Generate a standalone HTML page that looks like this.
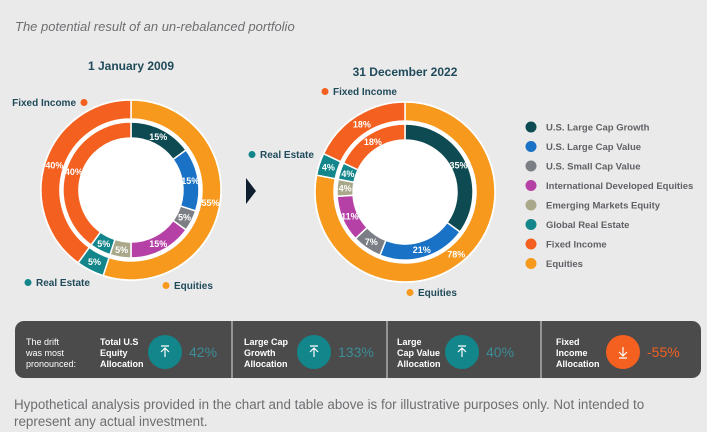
<!DOCTYPE html>
<html><head><meta charset="utf-8">
<style>
body{margin:0;background:#ebeaea;font-family:"Liberation Sans",sans-serif;}
#wrap{position:relative;width:707px;height:432px;overflow:hidden;background:#ebeaea;}
.t{position:absolute;white-space:nowrap;}
</style></head><body>
<div id="wrap">
<div class="t" style="left:15px;top:19px;font-size:13px;font-style:italic;color:#6d6e71;">The potential result of an un-rebalanced portfolio</div>
<svg id="svg" width="707" height="432" style="position:absolute;left:0;top:0"></svg>
<div class="t" style="left:14px;top:396px;font-size:13.4px;line-height:17px;color:#6d6e71;">Hypothetical analysis provided in the chart and table above is for illustrative purposes only. Not intended to<br>represent any actual investment.</div>
</div>
<script>
const NS='http://www.w3.org/2000/svg';
const svg=document.getElementById('svg');
const categories=['U.S. Large Cap Growth','U.S. Large Cap Value','U.S. Small Cap Value','International Developed Equities','Emerging Markets Equity','Global Real Estate','Fixed Income','Equities'];
const colors=['#0e4a52','#1a72c6','#7b7f85','#b541a6','#a9a88a','#12868a','#f3601f','#f7991c'];
const inner2009=[15,15,5,15,5,5,40];
const outer2009=[55,5,40];
const inner2022=[35,21,7,11,4,4,18];
const outer2022=[78,4,18];
const outerCats=[7,5,6];
const driftLabels=[['Total U.S','Equity','Allocation'],['Large Cap','Growth','Allocation'],['Large','Cap Value','Allocation'],['Fixed','Income','Allocation']];
const driftValues=[42,133,40,-55];

function el(tag,attrs,parent){const e=document.createElementNS(NS,tag);for(const k in attrs)e.setAttribute(k,attrs[k]);(parent||svg).appendChild(e);return e;}
function pt(cx,cy,r,f){const a=f*2*Math.PI;return [cx+r*Math.sin(a),cy-r*Math.cos(a)];}
function arc(cx,cy,r0,r1,f0,f1){const [a,b]=pt(cx,cy,r1,f0),[c,d]=pt(cx,cy,r1,f1),[e,f]=pt(cx,cy,r0,f1),[g,h]=pt(cx,cy,r0,f0);const L=(f1-f0)>0.5?1:0;
return `M${a},${b}A${r1},${r1} 0 ${L} 1 ${c},${d}L${e},${f}A${r0},${r0} 0 ${L} 0 ${g},${h}Z`;}
function ring(cx,cy,r0,r1,vals,cats,name){
  let acc=0;const tot=vals.reduce((a,b)=>a+b,0);
  vals.forEach((v,i)=>{const f0=acc/tot,f1=(acc+v)/tot;acc+=v;
    const p=el('path',{d:arc(cx,cy,r0,r1,f0,f1),fill:colors[cats[i]],stroke:'#fff','stroke-width':1.5});
    
    
    const [x,y]=pt(cx,cy,(r0+r1)/2,(f0+f1)/2);
    const t=el('text',{x:x,y:y+3.5,'text-anchor':'middle','font-size':9,'font-weight':'bold',fill:'#fff'});
    t.textContent=v+'%';
    
    
  });
}
function donut(cx,cy,inner,outer,name){
  el('circle',{cx:cx,cy:cy,r:91,fill:'#fff'});
  ring(cx,cy,71,90,outer,outerCats,name+'-outer');
  ring(cx,cy,52,68,inner,[0,1,2,3,4,5,6],name+'-inner');
}
donut(131,190,inner2009,outer2009,'donut-2009');
donut(405,192,inner2022,outer2022,'donut-2022');

function txt(x,y,s,opt,name){const t=el('text',Object.assign({x:x,y:y,'font-size':10,'font-weight':'bold',fill:'#1f4a5a'},opt||{}));t.textContent=s;return t;}
txt(131,70,'1 January 2009',{'text-anchor':'middle','font-size':12},'title-2009');
txt(405,76,'31 December 2022',{'text-anchor':'middle','font-size':12},'title-2022');
function callout(x,y,s,c,dotFirst,name){
  if(dotFirst){el('circle',{cx:x,cy:y-3.5,r:3.5,fill:c});txt(x+8,y,s,{},name);}
  else{txt(x,y,s,{'text-anchor':'end'},name);el('circle',{cx:x+8,cy:y-3.5,r:3.5,fill:c});}
}
callout(76,106,'Fixed Income',colors[6],false,'callout-fixed-income-2009');
callout(28,286,'Real Estate',colors[5],true,'callout-real-estate-2009');
callout(166,289,'Equities',colors[7],true,'callout-equities-2009');
callout(325,95,'Fixed Income',colors[6],true,'callout-fixed-income-2022');
callout(252,158,'Real Estate',colors[5],true,'callout-real-estate-2022');
callout(410,296,'Equities',colors[7],true,'callout-equities-2022');
const arr=el('path',{d:'M246,178L256,191L246,204Z',fill:'#0f1e2e'});



categories.forEach((c,i)=>{const y=127+i*19.5;
  const d=el('circle',{cx:531,cy:y,r:5.5,fill:colors[i]});
  
  
  txt(546,y+3.5,c,{fill:'#5f6166','font-size':9.5},'legend-entry-'+i);
});

// drift panel
const panel=el('rect',{x:15,y:321,width:686,height:57,rx:9,fill:'#4b4b4b'});


function wt(x,y,s,opt,name){return txt(x,y,s,Object.assign({fill:'#fff','font-size':9},opt),name);}
wt(26,345,'The drift',{'font-weight':'normal'},'drift-intro-1');
wt(26,356,'was most',{'font-weight':'normal'},'drift-intro-2');
wt(26,367,'pronounced:',{'font-weight':'normal'},'drift-intro-3');
const bx=[100,244,397,556];
driftLabels.forEach((ls,i)=>{
  ls.forEach((s,j)=>wt(bx[i],345+j*11,s,{},'drift-label-'+i+'-'+j));
  const cx=bx[i]+(i==0?65:i==1?70:i==2?65:67),cy=352;
  const neg=driftValues[i]<0;
  el('circle',{cx:cx,cy:cy,r:17,fill:neg?'#f3601f':'#12868a'});
  if(neg){el('path',{d:`M${cx},${cy-5}V${cy+4}M${cx-4},${cy}L${cx},${cy+4}L${cx+4},${cy}M${cx-4},${cy+6}H${cx+4}`,stroke:'#fff','stroke-width':1.2,fill:'none'});}
  else{el('path',{d:`M${cx},${cy+5}V${cy-4}M${cx-4},${cy}L${cx},${cy-4}L${cx+4},${cy}M${cx-4},${cy-6}H${cx+4}`,stroke:'#fff','stroke-width':1.2,fill:'none'});}
  txt(cx+24,cy+5,driftValues[i]+'%',{fill:neg?'#f3601f':'#3b8d98','font-size':14,'font-weight':'normal'},'drift-value-'+i);
  if(i<3){const xx=[232,387,541][i];const l=el('line',{x1:xx,y1:321,x2:xx,y2:378,stroke:'#ddd','stroke-width':1});}
});
</script>
</body></html>
